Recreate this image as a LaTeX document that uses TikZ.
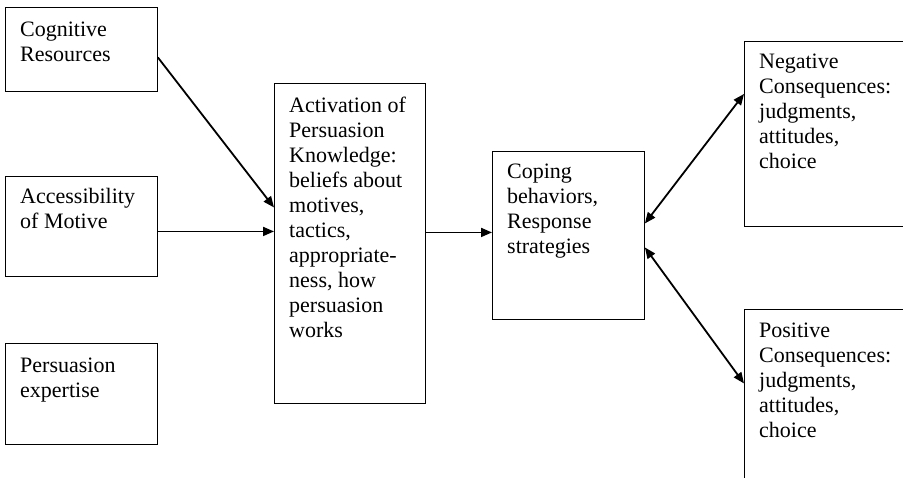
\documentclass[tikz,border=0pt]{standalone}
\usepackage{fontspec}
\setmainfont{Liberation Serif}
\usetikzlibrary{arrows.meta}
\tikzset{
  box/.style={draw, line width=0.9pt, rectangle, inner sep=0pt, anchor=north west},
  label/.style={anchor=base west, inner sep=0pt},
  link/.style={line width=1.8pt, -{Triangle[length=11pt,width=9pt]}},
  bilink/.style={line width=1.8pt, {Triangle[length=11pt,width=9pt]}-{Triangle[length=11pt,width=9pt]}}
}
\newcommand{\boxtext}[1]{\parbox[t]{200pt}{\fontsize{22}{25}\selectfont\raggedright #1}}
\begin{document}
\begin{tikzpicture}[x=1pt,y=-1pt]
  \useasboundingbox (0,0) rectangle (903,477);
  \clip (0,0) rectangle (903,477);
  \fill[white] (0,0) rectangle (903,477);

  % boxes
  \node[box, minimum width=152pt, minimum height=84pt]  (cog) at (5,7) {};
  \node[box, minimum width=152pt, minimum height=100pt] (acc) at (5,176) {};
  \node[box, minimum width=152pt, minimum height=101pt] (exp) at (5,343) {};
  \node[box, minimum width=151pt, minimum height=320pt] (act) at (274,83) {};
  \node[box, minimum width=152pt, minimum height=168pt] (cop) at (492,151) {};
  \node[box, minimum width=180pt, minimum height=185pt] (neg) at (744,41) {};
  \node[box, minimum width=180pt, minimum height=200pt] (pos) at (744,309) {};

  % box texts
  \node[label] (cogt) at (20,36)  {\boxtext{Cognitive\\Resources}};
  \node[label] (acct) at (20,203) {\boxtext{Accessibility\\of Motive}};
  \node[label] (expt) at (20,372) {\boxtext{Persuasion\\expertise}};
  \node[label] (actt) at (289,112) {\boxtext{Activation of\\Persuasion\\Knowledge:\\beliefs about\\motives,\\tactics,\\appropriate-\\ness, how\\persuasion\\works}};
  \node[label] (copt) at (507,178) {\boxtext{Coping\\behaviors,\\Response\\strategies}};
  \node[label] (negt) at (759,68)  {\boxtext{Negative\\Consequences:\\judgments,\\attitudes,\\choice}};
  \node[label] (post) at (759,337) {\boxtext{Positive\\Consequences:\\judgments,\\attitudes,\\choice}};

  % connectors
  \draw[link] ([yshift=-8pt]cog.east) -- ([yshift=36pt]act.west);
  \draw[link] ([yshift=-5pt]acc.east) -- ([yshift=-5pt]acc.east -| act.west);
  \draw[link] ([yshift=11pt]act.east) -- ([yshift=11pt]act.east -| cop.west);
  \draw[bilink] ([yshift=12pt]cop.east) -- ([yshift=40pt]neg.west);
  \draw[bilink] ([yshift=-12pt]cop.east) -- ([yshift=26pt]pos.west);
\end{tikzpicture}
\end{document}
